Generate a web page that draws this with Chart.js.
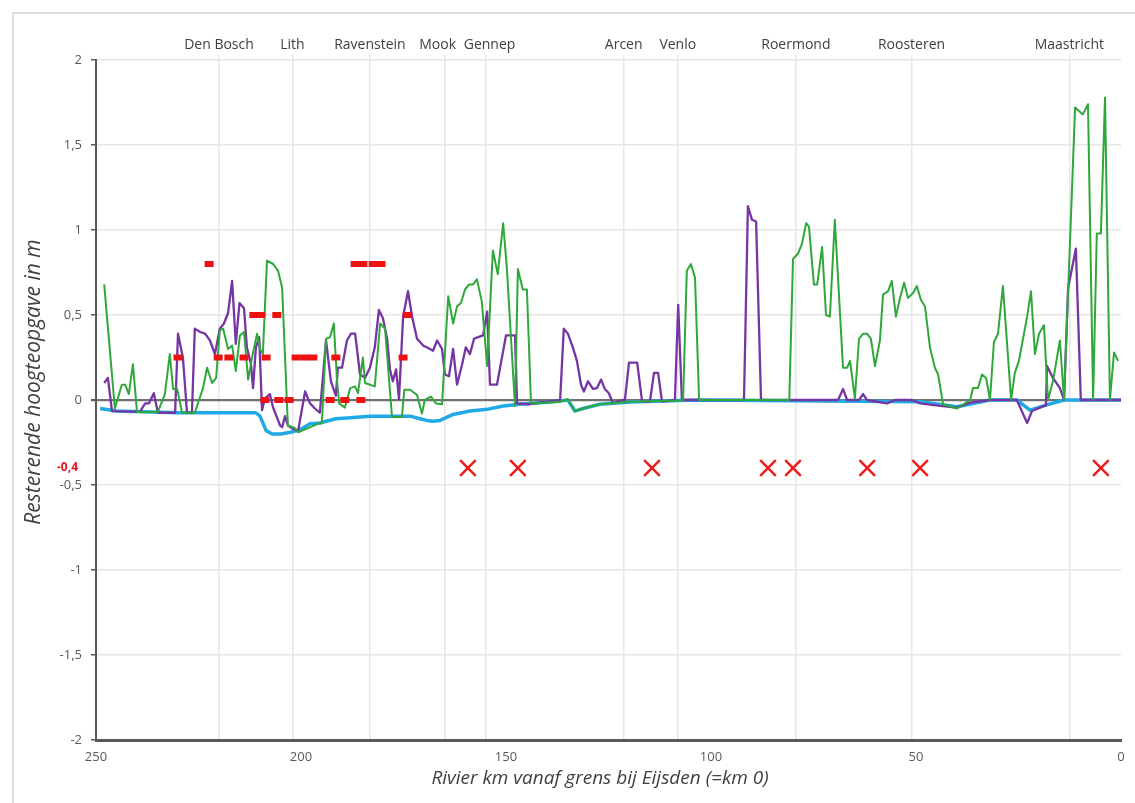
<!DOCTYPE html>
<html>
<head>
<meta charset="utf-8">
<script src="https://cdn.jsdelivr.net/npm/chart.js@4"></script>
<style>
  html, body { margin: 0; padding: 0; background: #fff; }
  #wrap { position: relative; width: 1135px; height: 803px; }
  #frame { position: absolute; left: 12px; top: 12px; right: 0; bottom: 0;
           border-left: 2px solid #dcdcdc; border-top: 2px solid #dcdcdc; pointer-events: none; }
</style>
</head>
<body>
<div id="wrap">
  <canvas id="chart" width="1135" height="803"></canvas>
  <div id="frame"></div>
</div>
<script>
// plaatsen langs de Maas (km vanaf grens bij Eijsden)
// spaties schuiven Mook en Gennep een beetje uit elkaar
const cityNames = ['Den Bosch', 'Lith', 'Ravenstein', 'Mook    ', '  Gennep', 'Arcen', 'Venlo', 'Roermond', 'Roosteren', 'Maastricht'];
const cityKm = [220.0, 202.1, 183.2, 164.9, 154.9, 121.3, 108.1, 79.3, 51.1, 12.6];

// groene lijn
const greenKm = [248.0, 245.4, 243.7, 242.9, 242.0, 241.0, 240.0, 234.9, 233.2, 232.0, 231.2, 230.2, 229.0, 225.9, 223.9, 222.9, 221.7, 220.7, 219.8, 219.0, 217.8, 216.8, 215.9, 214.9, 213.9, 212.9, 211.7, 210.7, 210.0, 209.3,
  208.3, 206.8, 205.6, 204.6, 203.2, 201.5, 200.7, 198.3, 195.9, 194.9, 193.9, 192.9, 192.0, 191.2, 190.7, 189.3, 188.0, 186.8, 186.1, 184.9, 184.4, 182.0, 180.7, 179.5, 177.8, 175.4, 174.8, 173.4, 171.7, 170.5, 169.8, 168.3, 167.1, 165.6,
  164.1, 162.9, 161.95, 161.0, 160.0, 159.0, 158.0, 157.1, 155.9, 154.6, 153.2, 152.0, 150.7, 149.8, 147.8, 147.1, 145.9, 144.9, 143.9, 136.8, 134.9, 133.2, 131.2, 127.1, 119.8, 107.6, 106.8, 105.9, 104.9, 103.9, 102.9,
  80.9, 80.0, 78.8, 77.8, 76.8, 76.1, 74.9, 74.1, 72.9, 71.95, 71.0, 69.8, 67.8, 66.8, 66.1, 64.9, 63.9, 62.9, 61.95, 61.0, 60.0, 58.8, 58.05, 56.8, 55.9, 54.9, 53.9, 52.9, 51.95, 50.7, 49.8, 48.8, 47.8, 46.6, 45.4, 44.6, 43.4,
  40.0, 36.8, 36.1, 34.9, 33.9, 32.9, 31.95, 31.0, 30.0, 28.8, 26.8, 25.9, 24.9, 22.9, 21.95, 21.0, 20.0, 18.8, 17.8, 16.6, 14.9, 13.9, 11.2, 9.3, 8.05, 6.8, 5.9, 4.9, 3.9, 2.7, 1.7, 0.7];
const greenVal = [0.68, -0.05, 0.09, 0.09, 0.035, 0.21, -0.07, -0.07, 0.035, 0.27, 0.065, 0.065, -0.075, -0.075, 0.07, 0.19, 0.1, 0.13, 0.41, 0.42, 0.30, 0.32, 0.17, 0.38, 0.40, 0.12, 0.28, 0.39, 0.30, 0.27,
  0.82, 0.80, 0.76, 0.66, -0.15, -0.165, -0.19, -0.165, -0.14, -0.135, 0.36, 0.37, 0.45, 0.11, -0.02, -0.045, 0.07, 0.08, 0.04, 0.25, 0.10, 0.08, 0.45, 0.42, -0.10, -0.10, 0.06, 0.06, 0.03, -0.08, 0.0, 0.02, -0.02, -0.025,
  0.61, 0.45, 0.55, 0.57, 0.65, 0.68, 0.68, 0.71, 0.58, 0.20, 0.88, 0.74, 1.04, 0.78, -0.035, 0.77, 0.65, 0.65, -0.02, -0.01, 0.005, -0.065, -0.05, -0.025, -0.01, -0.003, 0.0, 0.76, 0.80, 0.72, 0.0,
  0.0, 0.83, 0.86, 0.92, 1.04, 1.02, 0.68, 0.68, 0.90, 0.50, 0.49, 1.06, 0.19, 0.19, 0.23, 0.01, 0.36, 0.39, 0.39, 0.36, 0.20, 0.35, 0.62, 0.64, 0.70, 0.49, 0.60, 0.69, 0.60, 0.63, 0.67, 0.59, 0.55, 0.31, 0.19, 0.15, -0.025,
  -0.05, 0.0, 0.07, 0.07, 0.15, 0.13, 0.0, 0.34, 0.39, 0.67, 0.0, 0.16, 0.23, 0.49, 0.64, 0.27, 0.39, 0.44, 0.0, 0.11, 0.35, 0.0, 1.72, 1.68, 1.74, 0.0, 0.98, 0.98, 1.78, 0.0, 0.28, 0.23];

// paarse lijn
const purpleKm = [248.0, 247.1, 246.1, 239.3, 238.0, 237.1, 235.9, 234.9, 230.7, 230.0, 228.8, 227.8, 226.6, 225.9, 224.6, 223.4, 222.2, 221.0, 219.8, 218.8, 217.8, 216.8, 215.9, 215.0, 213.9, 213.2, 212.2, 211.7, 211.0, 210.2,
  209.5, 208.8, 207.6, 206.8, 205.1, 204.6, 203.9, 203.2, 202.0, 200.7, 199.0, 197.8, 196.6, 195.4, 193.9, 192.7, 191.5, 191.0, 190.0, 188.8, 187.8, 186.8, 185.6, 184.4, 183.2, 182.0, 181.0, 180.0, 179.0, 178.3, 177.6, 176.8, 176.1,
  175.1, 173.9, 172.9, 171.7, 170.2, 169.3, 167.8, 166.8, 165.6, 164.9, 163.9, 162.9, 161.95, 160.7, 159.8, 158.8, 157.8, 156.8, 155.6, 154.6, 153.9, 152.2, 150.0, 147.8, 147.3, 144.6, 136.8, 135.9, 134.9, 133.7, 132.7,
  131.7, 131.0, 130.0, 128.8, 127.8, 126.8, 125.9, 124.9, 123.9, 121.7, 121.0, 120.0, 118.0, 116.8, 114.9, 113.9, 112.9, 111.95, 108.8, 108.0, 107.1, 91.95, 91.0, 90.0, 89.0, 87.8, 69.0, 67.8, 66.8, 63.9, 62.9, 61.95,
  57.1, 55.1, 51.0, 49.0, 44.1, 40.0, 36.8, 31.95, 25.4, 22.9, 21.7, 19.8, 18.3, 18.05, 16.6, 14.9, 13.9, 12.9, 11.0, 9.8, 0.0];
const purpleVal = [0.10, 0.13, -0.065, -0.07, -0.02, -0.02, 0.04, -0.075, -0.075, 0.39, 0.25, -0.075, -0.075, 0.42, 0.40, 0.39, 0.35, 0.27, 0.42, 0.45, 0.51, 0.70, 0.33, 0.57, 0.54, 0.31, 0.21, 0.07, 0.31, 0.37,
  -0.06, 0.01, 0.035, -0.045, -0.15, -0.16, -0.095, -0.15, -0.17, -0.18, 0.05, -0.02, -0.05, -0.075, 0.35, 0.11, 0.025, 0.19, 0.19, 0.35, 0.39, 0.39, 0.15, 0.13, 0.19, 0.31, 0.53, 0.48, 0.36, 0.18, 0.11, 0.18, 0.005,
  0.49, 0.64, 0.49, 0.36, 0.32, 0.31, 0.29, 0.35, 0.30, 0.15, 0.14, 0.30, 0.09, 0.21, 0.31, 0.27, 0.36, 0.37, 0.38, 0.52, 0.09, 0.09, 0.38, 0.38, -0.02, -0.025, 0.0, 0.42, 0.39, 0.31, 0.23,
  0.09, 0.05, 0.11, 0.065, 0.07, 0.12, 0.065, 0.04, -0.02, 0.0, 0.0, 0.22, 0.22, -0.01, -0.01, 0.16, 0.16, -0.01, 0.0, 0.56, 0.0, 0.0, 1.14, 1.06, 1.05, 0.0, 0.0, 0.065, 0.0, 0.0, 0.035, 0.0,
  -0.02, 0.0, 0.0, -0.02, -0.035, -0.045, -0.015, 0.0, 0.0, -0.135, -0.065, -0.045, -0.03, 0.20, 0.13, 0.07, 0.0, 0.66, 0.89, 0.0, 0.0];

// blauwe lijn
const blueKm = [249.0, 245.0, 230.0, 211.0, 210.0, 208.5, 207.0, 205.0, 202.5, 201.0, 199.5, 197.8, 195.4, 191.5, 188.0, 183.2, 178.3, 173.4, 171.0, 169.3, 167.8, 166.1, 162.9, 158.8, 154.6, 150.7, 146.6, 138.5, 134.9,
  133.2, 131.2, 127.1, 119.8, 107.6, 102.9, 49.0, 40.0, 32.0, 25.4, 22.2, 18.3, 13.9, 0.0];
const blueVal = [-0.05, -0.065, -0.075, -0.075, -0.095, -0.18, -0.20, -0.20, -0.19, -0.18, -0.165, -0.14, -0.135, -0.11, -0.105, -0.095, -0.095, -0.095, -0.11, -0.12, -0.125, -0.12, -0.085, -0.065, -0.055, -0.035, -0.025, -0.01, 0.0,
  -0.065, -0.05, -0.025, -0.012, -0.003, 0.0, -0.01, -0.04, 0.0, 0.0, -0.06, -0.03, 0.0, 0.0];

// rode streepjes
const dashKm = [222.4, 186.8, 184.9, 182.4, 180.5,
  211.5, 209.8, 205.9, 174.1,
  230.0, 220.2, 217.6, 213.9, 208.5, 201.2, 199.1, 197.1, 191.5, 175.1,
  208.8, 205.4, 202.9, 192.9, 189.3, 185.4];
const dashVal = [0.8, 0.8, 0.8, 0.8, 0.8,
  0.5, 0.5, 0.5, 0.5,
  0.25, 0.25, 0.25, 0.25, 0.25, 0.25, 0.25, 0.25, 0.25, 0.25,
  0, 0, 0, 0, 0, 0];

// rode kruisjes op -0,4
const crossLevel = -0.4;
const crossKm = [159.3, 147.1, 114.4, 86.1, 80.0, 61.9, 49.0, 4.9];

const toPts = (ks, vs) => ks.map((k, i) => ({ x: k, y: vs[i] }));

const fontFam = "'Open Sans', 'Noto Sans', sans-serif";
const axisCol = '#595959';

// label -0,4 en de astitels zelf tekenen (staan niet precies in het midden)
const extraText = {
    id: 'extraText',
    afterDraw(chart) {
        const y = chart.scales.y.getPixelForValue(crossLevel);
        const c = chart.ctx;
        c.save();
        c.fillStyle = '#e8141b';
        c.font = "bold 12px " + fontFam;
        c.textAlign = 'right';
        c.textBaseline = 'middle';
        c.fillText('-0,4', 78, y);

        c.fillStyle = '#404040';
        c.textAlign = 'center';
        c.font = "italic 19px " + fontFam;
        c.fillText('Rivier km vanaf grens bij Eijsden (=km 0)', 600, 779);

        c.translate(34, 382);
        c.rotate(-Math.PI / 2);
        c.font = "italic 21px " + fontFam;
        c.fillText('Resterende hoogteopgave in m', 0, 0);
        c.restore();
    }
};

const ctx = document.getElementById('chart');
const chart = new Chart(ctx, {
    type: 'line',
    data: {
        datasets: [
            {
                type: 'scatter',
                data: crossKm.map(k => ({ x: k, y: crossLevel })),
                pointStyle: 'crossRot',
                pointRadius: 11,
                pointBorderWidth: 2.5,
                borderColor: '#ee1c1c',
                backgroundColor: '#ee1c1c'
            },
            {
                type: 'scatter',
                data: toPts(dashKm, dashVal),
                pointStyle: 'line',
                pointRadius: 4.5,
                pointBorderWidth: 6,
                borderColor: '#ee1111',
                backgroundColor: '#ee1111'
            },
            {
                data: toPts(greenKm, greenVal),
                borderColor: '#2fa83b',
                borderWidth: 2,
                pointRadius: 0,
                borderJoinStyle: 'round'
            },
            {
                data: toPts(purpleKm, purpleVal),
                borderColor: '#7535a3',
                borderWidth: 2.3,
                pointRadius: 0,
                borderJoinStyle: 'round'
            },
            {
                data: toPts(blueKm, blueVal),
                borderColor: '#1faae6',
                borderWidth: 3.5,
                pointRadius: 0,
                borderJoinStyle: 'round'
            }
        ]
    },
    options: {
        responsive: false,
        animation: false,
        events: [],
        layout: { padding: { left: 0, right: 14, top: 0, bottom: 0 } },
        plugins: {
            legend: { display: false },
            tooltip: { enabled: false }
        },
        scales: {
            x: {
                type: 'linear',
                position: 'bottom',
                reverse: true,
                min: 0,
                max: 250,
                afterFit: s => { s.height = 63; },
                ticks: {
                    stepSize: 50,
                    padding: 9,
                    color: axisCol,
                    font: { family: fontFam, size: 13 }
                },
                grid: { display: false, drawTicks: false },
                border: { color: axisCol, width: 3 }
            },
            x2: {
                type: 'linear',
                position: 'top',
                reverse: true,
                min: 0,
                max: 250,
                afterFit: s => { s.height = 60; },
                afterBuildTicks: s => { s.ticks = cityKm.map(v => ({ value: v })); },
                ticks: {
                    autoSkip: false,
                    maxRotation: 0,
                    padding: 2,
                    color: '#404040',
                    font: { family: fontFam, size: 14 },
                    callback: (v, i) => cityNames[i]
                },
                grid: { color: '#e6e6e6', lineWidth: 1.5, tickLength: 5 },
                border: { display: false }
            },
            y: {
                min: -2,
                max: 2,
                afterFit: s => { s.width = 96; },
                ticks: {
                    stepSize: 0.5,
                    padding: 9,
                    color: axisCol,
                    font: { family: fontFam, size: 13 },
                    callback: v => String(v).replace('.', ',')
                },
                grid: {
                    color: c => c.tick && c.tick.value === 0 ? '#707070' : '#e6e6e6',
                    lineWidth: c => c.tick && c.tick.value === 0 ? 2.2 : 1.5,
                    tickColor: axisCol,
                    tickLength: 5
                },
                border: { color: axisCol, width: 2 }
            }
        }
    },
    plugins: [extraText]
});
</script>
</body>
</html>
